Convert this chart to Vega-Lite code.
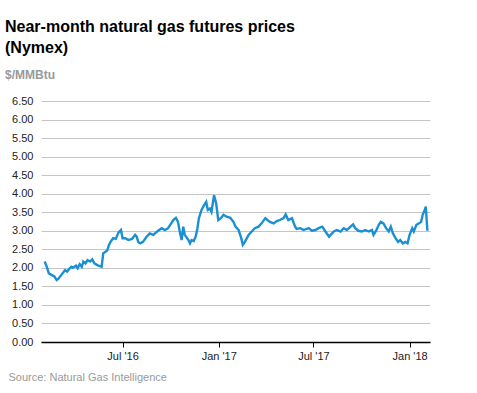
{
  "$schema": "https://vega.github.io/schema/vega-lite/v6.json",
  "autosize": "none",
  "width": 389,
  "height": 241,
  "padding": {"left": 41, "top": 101, "right": 47, "bottom": 51},
  "background": "white",
  "config": {"font": "Liberation Sans", "view": {"stroke": null}},
  "title": {
    "text": ["Near-month natural gas futures prices", "(Nymex)"],
    "subtitle": "$/MMBtu",
    "anchor": "start",
    "frame": "group",
    "dx": -36,
    "offset": 14,
    "fontSize": 16,
    "fontWeight": "bold",
    "color": "#000000",
    "lineHeight": 21,
    "subtitleFontSize": 12,
    "subtitleFontWeight": "bold",
    "subtitleColor": "#999999",
    "subtitlePadding": 14
  },
  "data": {
    "values": [
      {"date": "2016-02-03", "price": 2.17},
      {"date": "2016-02-07", "price": 2.03},
      {"date": "2016-02-11", "price": 1.85},
      {"date": "2016-02-16", "price": 1.81},
      {"date": "2016-02-22", "price": 1.76},
      {"date": "2016-02-26", "price": 1.67},
      {"date": "2016-02-29", "price": 1.70},
      {"date": "2016-03-06", "price": 1.81},
      {"date": "2016-03-13", "price": 1.94},
      {"date": "2016-03-17", "price": 1.90},
      {"date": "2016-03-22", "price": 1.99},
      {"date": "2016-03-25", "price": 2.03},
      {"date": "2016-03-28", "price": 2.00},
      {"date": "2016-04-03", "price": 2.06},
      {"date": "2016-04-06", "price": 1.99},
      {"date": "2016-04-10", "price": 2.10},
      {"date": "2016-04-14", "price": 2.03},
      {"date": "2016-04-17", "price": 2.17},
      {"date": "2016-04-21", "price": 2.12},
      {"date": "2016-04-25", "price": 2.21},
      {"date": "2016-04-30", "price": 2.17},
      {"date": "2016-05-04", "price": 2.23},
      {"date": "2016-05-08", "price": 2.12},
      {"date": "2016-05-13", "price": 2.08},
      {"date": "2016-05-17", "price": 2.05},
      {"date": "2016-05-22", "price": 2.03},
      {"date": "2016-05-25", "price": 2.39},
      {"date": "2016-05-30", "price": 2.44},
      {"date": "2016-06-02", "price": 2.48},
      {"date": "2016-06-05", "price": 2.62},
      {"date": "2016-06-08", "price": 2.70},
      {"date": "2016-06-13", "price": 2.80},
      {"date": "2016-06-18", "price": 2.78},
      {"date": "2016-06-23", "price": 2.95},
      {"date": "2016-06-28", "price": 3.02},
      {"date": "2016-07-01", "price": 2.80},
      {"date": "2016-07-06", "price": 2.80},
      {"date": "2016-07-12", "price": 2.75},
      {"date": "2016-07-19", "price": 2.78},
      {"date": "2016-07-25", "price": 2.89},
      {"date": "2016-07-28", "price": 2.84},
      {"date": "2016-07-31", "price": 2.70},
      {"date": "2016-08-04", "price": 2.66},
      {"date": "2016-08-09", "price": 2.70},
      {"date": "2016-08-16", "price": 2.84},
      {"date": "2016-08-22", "price": 2.93},
      {"date": "2016-08-29", "price": 2.89},
      {"date": "2016-09-01", "price": 2.93},
      {"date": "2016-09-07", "price": 3.00},
      {"date": "2016-09-14", "price": 3.07},
      {"date": "2016-09-20", "price": 3.02},
      {"date": "2016-09-26", "price": 3.07},
      {"date": "2016-10-02", "price": 3.20},
      {"date": "2016-10-06", "price": 3.29},
      {"date": "2016-10-11", "price": 3.35},
      {"date": "2016-10-15", "price": 3.24},
      {"date": "2016-10-19", "price": 2.93},
      {"date": "2016-10-22", "price": 2.75},
      {"date": "2016-10-25", "price": 3.11},
      {"date": "2016-10-28", "price": 2.89},
      {"date": "2016-11-04", "price": 2.75},
      {"date": "2016-11-07", "price": 2.66},
      {"date": "2016-11-10", "price": 2.75},
      {"date": "2016-11-14", "price": 2.72},
      {"date": "2016-11-18", "price": 2.85},
      {"date": "2016-11-21", "price": 3.05},
      {"date": "2016-11-24", "price": 3.34},
      {"date": "2016-11-29", "price": 3.56},
      {"date": "2016-12-04", "price": 3.69},
      {"date": "2016-12-08", "price": 3.78},
      {"date": "2016-12-11", "price": 3.56},
      {"date": "2016-12-15", "price": 3.60},
      {"date": "2016-12-18", "price": 3.51},
      {"date": "2016-12-23", "price": 3.96},
      {"date": "2016-12-27", "price": 3.74},
      {"date": "2016-12-31", "price": 3.29},
      {"date": "2017-01-05", "price": 3.34},
      {"date": "2017-01-10", "price": 3.43},
      {"date": "2017-01-16", "price": 3.38},
      {"date": "2017-01-23", "price": 3.35},
      {"date": "2017-01-29", "price": 3.24},
      {"date": "2017-02-02", "price": 3.11},
      {"date": "2017-02-08", "price": 3.02},
      {"date": "2017-02-13", "price": 2.80},
      {"date": "2017-02-16", "price": 2.62},
      {"date": "2017-02-20", "price": 2.70},
      {"date": "2017-02-27", "price": 2.89},
      {"date": "2017-03-05", "price": 2.98},
      {"date": "2017-03-11", "price": 3.07},
      {"date": "2017-03-18", "price": 3.11},
      {"date": "2017-03-24", "price": 3.20},
      {"date": "2017-03-31", "price": 3.34},
      {"date": "2017-04-04", "price": 3.29},
      {"date": "2017-04-09", "price": 3.24},
      {"date": "2017-04-16", "price": 3.20},
      {"date": "2017-04-22", "price": 3.26},
      {"date": "2017-04-28", "price": 3.29},
      {"date": "2017-05-05", "price": 3.34},
      {"date": "2017-05-09", "price": 3.44},
      {"date": "2017-05-14", "price": 3.29},
      {"date": "2017-05-21", "price": 3.34},
      {"date": "2017-05-27", "price": 3.11},
      {"date": "2017-05-30", "price": 3.05},
      {"date": "2017-06-06", "price": 3.07},
      {"date": "2017-06-12", "price": 3.02},
      {"date": "2017-06-22", "price": 3.07},
      {"date": "2017-06-28", "price": 3.00},
      {"date": "2017-07-05", "price": 3.02},
      {"date": "2017-07-11", "price": 3.07},
      {"date": "2017-07-18", "price": 3.11},
      {"date": "2017-07-24", "price": 2.98},
      {"date": "2017-07-31", "price": 2.84},
      {"date": "2017-08-03", "price": 2.89},
      {"date": "2017-08-09", "price": 2.98},
      {"date": "2017-08-15", "price": 3.02},
      {"date": "2017-08-22", "price": 2.98},
      {"date": "2017-08-28", "price": 3.07},
      {"date": "2017-09-03", "price": 3.02},
      {"date": "2017-09-10", "price": 3.11},
      {"date": "2017-09-15", "price": 3.17},
      {"date": "2017-09-19", "price": 3.07},
      {"date": "2017-09-25", "price": 3.00},
      {"date": "2017-10-02", "price": 2.98},
      {"date": "2017-10-08", "price": 3.02},
      {"date": "2017-10-15", "price": 2.98},
      {"date": "2017-10-21", "price": 3.02},
      {"date": "2017-10-24", "price": 2.89},
      {"date": "2017-10-29", "price": 3.00},
      {"date": "2017-11-03", "price": 3.16},
      {"date": "2017-11-07", "price": 3.24},
      {"date": "2017-11-12", "price": 3.20},
      {"date": "2017-11-17", "price": 3.07},
      {"date": "2017-11-22", "price": 2.98},
      {"date": "2017-11-26", "price": 3.11},
      {"date": "2017-11-30", "price": 2.93},
      {"date": "2017-12-05", "price": 2.80},
      {"date": "2017-12-10", "price": 2.70},
      {"date": "2017-12-14", "price": 2.75},
      {"date": "2017-12-19", "price": 2.66},
      {"date": "2017-12-24", "price": 2.70},
      {"date": "2017-12-28", "price": 2.66},
      {"date": "2018-01-01", "price": 2.89},
      {"date": "2018-01-06", "price": 3.07},
      {"date": "2018-01-09", "price": 2.98},
      {"date": "2018-01-14", "price": 3.16},
      {"date": "2018-01-19", "price": 3.20},
      {"date": "2018-01-23", "price": 3.24},
      {"date": "2018-01-26", "price": 3.43},
      {"date": "2018-01-30", "price": 3.56},
      {"date": "2018-02-01", "price": 3.65},
      {"date": "2018-02-04", "price": 3.00}
    ]
  },
  "mark": {"type": "line", "color": "#1a8fd3", "strokeWidth": 2.4, "interpolate": "linear"},
  "encoding": {
    "x": {
      "field": "date",
      "type": "temporal",
      "scale": {"domain": [{"year": 2016, "month": 1, "date": 27}, {"year": 2018, "month": 2, "date": 9}]},
      "axis": {
        "values": [{"year": 2016, "month": 7, "date": 1}, {"year": 2017, "month": 1, "date": 1}, {"year": 2017, "month": 7, "date": 1}, {"year": 2018, "month": 1, "date": 1}],
        "format": "%b '%y",
        "grid": false,
        "domainColor": "#000000",
        "domainWidth": 1.5,
        "tickColor": "#000000",
        "tickSize": 5,
        "labelFontSize": 11,
        "labelColor": "#222222",
        "labelPadding": 3,
        "title": "Source: Natural Gas Intelligence",
        "titleFontSize": 11,
        "titleFontWeight": "normal",
        "titleColor": "#999999",
        "titleAnchor": "start",
        "titleAlign": "left",
        "titleBaseline": "middle",
        "titleX": -33,
        "titleY": 35
      }
    },
    "y": {
      "field": "price",
      "type": "quantitative",
      "scale": {"domain": [0, 6.5], "nice": false},
      "axis": {
        "values": [0, 0.5, 1, 1.5, 2, 2.5, 3, 3.5, 4, 4.5, 5, 5.5, 6, 6.5],
        "format": ".2f",
        "domain": false,
        "ticks": false,
        "grid": true,
        "gridColor": "#c4c4c4",
        "gridWidth": 1,
        "labelFontSize": 11,
        "labelColor": "#222222",
        "labelPadding": 8,
        "title": null
      }
    }
  }
}
